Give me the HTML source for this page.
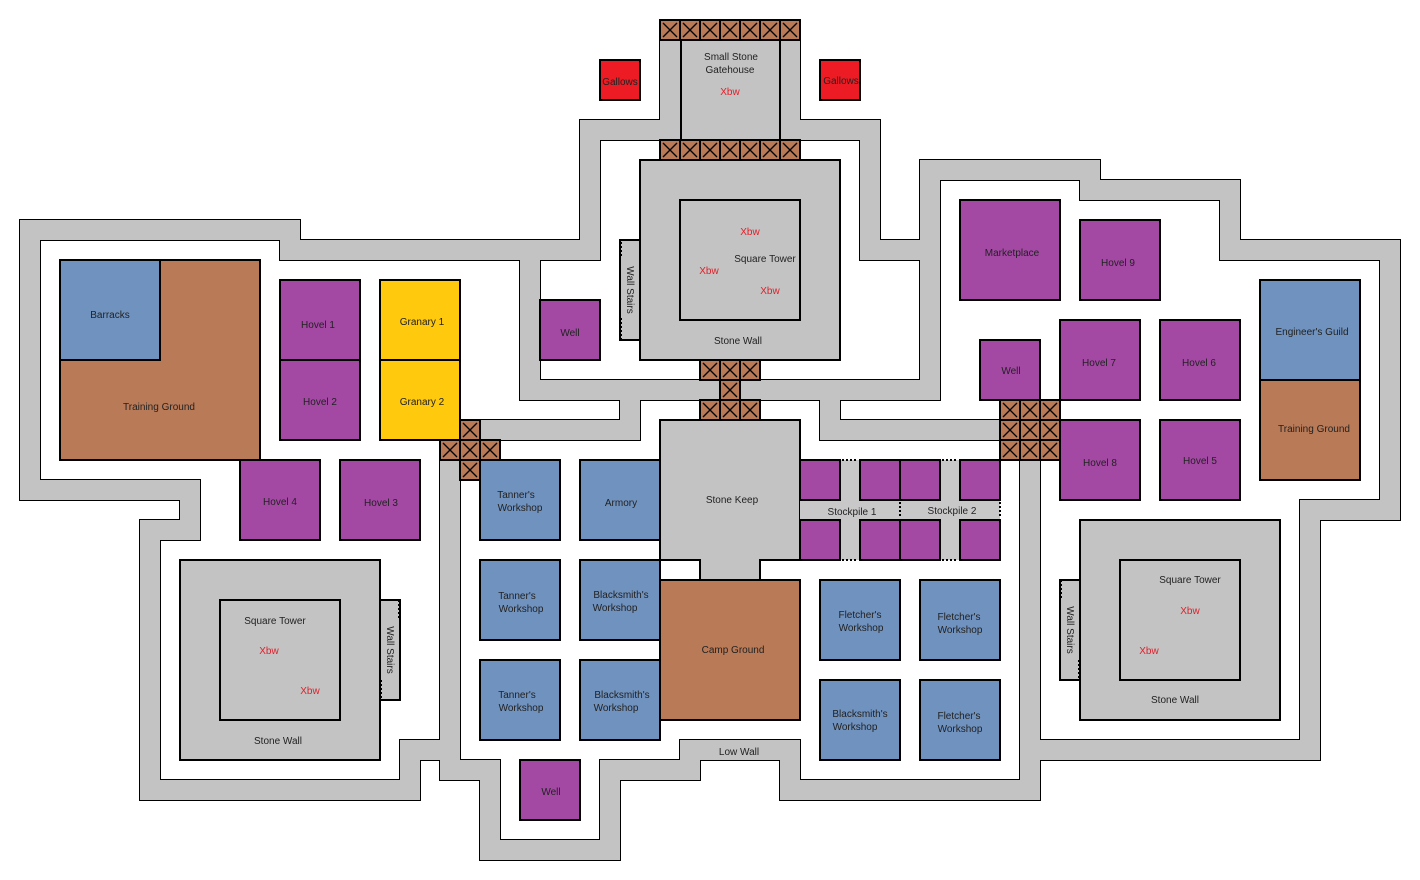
<!DOCTYPE html>
<html><head><meta charset="utf-8"><style>
html,body{margin:0;padding:0;background:#fff;}
svg{display:block;}
text{font-family:"Liberation Sans",sans-serif;font-size:10px;fill:#222;text-anchor:middle;}
.r{fill:#e0202a;}
</style></head><body>
<svg width="1420" height="880" viewBox="0 0 1420 880" xmlns="http://www.w3.org/2000/svg">
<rect width="1420" height="880" fill="#fff"/>
<g id="walls">
<g fill="#000">
<rect x="19" y="219" width="282" height="22"/>
<rect x="279" y="239" width="322" height="22"/>
<rect x="19" y="219" width="22" height="282"/>
<rect x="19" y="479" width="182" height="22"/>
<rect x="179" y="479" width="22" height="62"/>
<rect x="139" y="519" width="62" height="22"/>
<rect x="139" y="519" width="22" height="282"/>
<rect x="139" y="779" width="282" height="22"/>
<rect x="399" y="739" width="22" height="62"/>
<rect x="399" y="739" width="62" height="22"/>
<rect x="439" y="459" width="22" height="322"/>
<rect x="439" y="759" width="62" height="22"/>
<rect x="479" y="759" width="22" height="102"/>
<rect x="479" y="839" width="142" height="22"/>
<rect x="599" y="759" width="22" height="102"/>
<rect x="599" y="759" width="102" height="22"/>
<rect x="679" y="739" width="22" height="42"/>
<rect x="679" y="739" width="122" height="22"/>
<rect x="779" y="739" width="22" height="62"/>
<rect x="779" y="779" width="262" height="22"/>
<rect x="1019" y="439" width="22" height="362"/>
<rect x="1039" y="739" width="282" height="22"/>
<rect x="1299" y="499" width="22" height="262"/>
<rect x="1299" y="499" width="102" height="22"/>
<rect x="1379" y="239" width="22" height="282"/>
<rect x="1219" y="239" width="182" height="22"/>
<rect x="1219" y="179" width="22" height="82"/>
<rect x="1079" y="179" width="162" height="22"/>
<rect x="1079" y="159" width="22" height="42"/>
<rect x="919" y="159" width="182" height="22"/>
<rect x="919" y="159" width="22" height="242"/>
<rect x="859" y="239" width="82" height="22"/>
<rect x="859" y="119" width="22" height="142"/>
<rect x="799" y="119" width="82" height="22"/>
<rect x="579" y="119" width="82" height="22"/>
<rect x="579" y="119" width="22" height="142"/>
<rect x="519" y="259" width="22" height="142"/>
<rect x="519" y="379" width="422" height="22"/>
<rect x="619" y="399" width="22" height="42"/>
<rect x="479" y="419" width="162" height="22"/>
<rect x="819" y="399" width="22" height="42"/>
<rect x="839" y="419" width="162" height="22"/>
<rect x="659" y="39" width="142" height="102"/>
</g>
<g fill="#c3c3c3">
<rect x="20" y="220" width="280" height="20"/>
<rect x="280" y="240" width="320" height="20"/>
<rect x="20" y="220" width="20" height="280"/>
<rect x="20" y="480" width="180" height="20"/>
<rect x="180" y="480" width="20" height="60"/>
<rect x="140" y="520" width="60" height="20"/>
<rect x="140" y="520" width="20" height="280"/>
<rect x="140" y="780" width="280" height="20"/>
<rect x="400" y="740" width="20" height="60"/>
<rect x="400" y="740" width="60" height="20"/>
<rect x="440" y="460" width="20" height="320"/>
<rect x="440" y="760" width="60" height="20"/>
<rect x="480" y="760" width="20" height="100"/>
<rect x="480" y="840" width="140" height="20"/>
<rect x="600" y="760" width="20" height="100"/>
<rect x="600" y="760" width="100" height="20"/>
<rect x="680" y="740" width="20" height="40"/>
<rect x="680" y="740" width="120" height="20"/>
<rect x="780" y="740" width="20" height="60"/>
<rect x="780" y="780" width="260" height="20"/>
<rect x="1020" y="440" width="20" height="360"/>
<rect x="1040" y="740" width="280" height="20"/>
<rect x="1300" y="500" width="20" height="260"/>
<rect x="1300" y="500" width="100" height="20"/>
<rect x="1380" y="240" width="20" height="280"/>
<rect x="1220" y="240" width="180" height="20"/>
<rect x="1220" y="180" width="20" height="80"/>
<rect x="1080" y="180" width="160" height="20"/>
<rect x="1080" y="160" width="20" height="40"/>
<rect x="920" y="160" width="180" height="20"/>
<rect x="920" y="160" width="20" height="240"/>
<rect x="860" y="240" width="80" height="20"/>
<rect x="860" y="120" width="20" height="140"/>
<rect x="800" y="120" width="80" height="20"/>
<rect x="580" y="120" width="80" height="20"/>
<rect x="580" y="120" width="20" height="140"/>
<rect x="520" y="260" width="20" height="140"/>
<rect x="520" y="380" width="420" height="20"/>
<rect x="620" y="400" width="20" height="40"/>
<rect x="480" y="420" width="160" height="20"/>
<rect x="820" y="400" width="20" height="40"/>
<rect x="840" y="420" width="160" height="20"/>
<rect x="660" y="40" width="140" height="100"/>
</g>
<line x1="681" y1="40" x2="681" y2="140" stroke="#000" stroke-width="2"/>
<line x1="780" y1="40" x2="780" y2="140" stroke="#000" stroke-width="2"/>
</g>

<g stroke="#000" stroke-width="2">
<rect x="640" y="160" width="200" height="200" fill="#c3c3c3"/>
<rect x="680" y="200" width="120" height="120" fill="#c3c3c3"/>
<rect x="620" y="240" width="20" height="100" fill="#c3c3c3"/>
<rect x="180" y="560" width="200" height="200" fill="#c3c3c3"/>
<rect x="220" y="600" width="120" height="120" fill="#c3c3c3"/>
<rect x="380" y="600" width="20" height="100" fill="#c3c3c3"/>
<rect x="1080" y="520" width="200" height="200" fill="#c3c3c3"/>
<rect x="1120" y="560" width="120" height="120" fill="#c3c3c3"/>
<rect x="1060" y="580" width="20" height="100" fill="#c3c3c3"/>
<polygon points="660,420 800,420 800,560 760,560 760,580 700,580 700,560 660,560" fill="#c3c3c3"/>
<rect x="660" y="580" width="140" height="140" fill="#b97a57"/>
<rect x="600" y="60" width="40" height="40" fill="#ed1c24"/>
<rect x="820" y="60" width="40" height="40" fill="#ed1c24"/>
<rect x="60" y="260" width="200" height="200" fill="#b97a57"/>
<rect x="60" y="260" width="100" height="100" fill="#7092be"/>
<rect x="280" y="280" width="80" height="80" fill="#a349a4"/>
<rect x="280" y="360" width="80" height="80" fill="#a349a4"/>
<rect x="380" y="280" width="80" height="80" fill="#ffc90e"/>
<rect x="380" y="360" width="80" height="80" fill="#ffc90e"/>
<rect x="240" y="460" width="80" height="80" fill="#a349a4"/>
<rect x="340" y="460" width="80" height="80" fill="#a349a4"/>
<rect x="540" y="300" width="60" height="60" fill="#a349a4"/>
<rect x="480" y="460" width="80" height="80" fill="#7092be"/>
<rect x="580" y="460" width="80" height="80" fill="#7092be"/>
<rect x="480" y="560" width="80" height="80" fill="#7092be"/>
<rect x="580" y="560" width="80" height="80" fill="#7092be"/>
<rect x="480" y="660" width="80" height="80" fill="#7092be"/>
<rect x="580" y="660" width="80" height="80" fill="#7092be"/>
<rect x="820" y="580" width="80" height="80" fill="#7092be"/>
<rect x="920" y="580" width="80" height="80" fill="#7092be"/>
<rect x="820" y="680" width="80" height="80" fill="#7092be"/>
<rect x="920" y="680" width="80" height="80" fill="#7092be"/>
<rect x="520" y="760" width="60" height="60" fill="#a349a4"/>
<rect x="960" y="200" width="100" height="100" fill="#a349a4"/>
<rect x="1080" y="220" width="80" height="80" fill="#a349a4"/>
<rect x="980" y="340" width="60" height="60" fill="#a349a4"/>
<rect x="1060" y="320" width="80" height="80" fill="#a349a4"/>
<rect x="1160" y="320" width="80" height="80" fill="#a349a4"/>
<rect x="1060" y="420" width="80" height="80" fill="#a349a4"/>
<rect x="1160" y="420" width="80" height="80" fill="#a349a4"/>
<rect x="1260" y="280" width="100" height="100" fill="#7092be"/>
<rect x="1260" y="380" width="100" height="100" fill="#b97a57"/>
</g>
<g fill="#c8c8c8">
<rect x="800" y="500" width="200" height="20"/>
<rect x="840" y="460" width="20" height="100"/>
<rect x="940" y="460" width="20" height="100"/>
</g>
<g stroke="#000" stroke-width="2" fill="#a349a4">
<rect x="800" y="460" width="40" height="40"/><rect x="860" y="460" width="40" height="40"/><rect x="900" y="460" width="40" height="40"/><rect x="960" y="460" width="40" height="40"/>
<rect x="800" y="520" width="40" height="40"/><rect x="860" y="520" width="40" height="40"/><rect x="900" y="520" width="40" height="40"/><rect x="960" y="520" width="40" height="40"/>
</g>
<g stroke="#000" stroke-width="2" stroke-dasharray="2,2" fill="none">
<line x1="842" y1="460" x2="858" y2="460"/><line x1="942" y1="460" x2="958" y2="460"/>
<line x1="842" y1="560" x2="858" y2="560"/><line x1="942" y1="560" x2="958" y2="560"/>
<line x1="900" y1="502" x2="900" y2="518"/><line x1="1000" y1="502" x2="1000" y2="518"/>
<line x1="712" y1="580" x2="748" y2="580"/>
<line x1="712" y1="40" x2="748" y2="40"/><line x1="712" y1="140" x2="748" y2="140"/>
<line x1="621" y1="242" x2="621" y2="258"/><line x1="621" y1="318" x2="621" y2="340"/><line x1="621" y1="340" x2="640" y2="340"/>
<line x1="399" y1="600" x2="399" y2="620"/><line x1="380" y1="600" x2="399" y2="600"/><line x1="381" y1="680" x2="381" y2="698"/>
<line x1="1061" y1="580" x2="1061" y2="598"/><line x1="1061" y1="580" x2="1080" y2="580"/><line x1="1079" y1="660" x2="1079" y2="678"/>
</g>
<defs>
<g id="cx"><rect x="0" y="0" width="20" height="20" fill="#b97a57" stroke="#000" stroke-width="2"/><path d="M3 3L17 17M17 3L3 17" stroke="#000" stroke-width="1.3"/></g>
</defs>
<g>
<use href="#cx" x="660" y="20"/><use href="#cx" x="680" y="20"/><use href="#cx" x="700" y="20"/><use href="#cx" x="720" y="20"/><use href="#cx" x="740" y="20"/><use href="#cx" x="760" y="20"/><use href="#cx" x="780" y="20"/>
<use href="#cx" x="660" y="140"/><use href="#cx" x="680" y="140"/><use href="#cx" x="700" y="140"/><use href="#cx" x="720" y="140"/><use href="#cx" x="740" y="140"/><use href="#cx" x="760" y="140"/><use href="#cx" x="780" y="140"/>
<use href="#cx" x="700" y="360"/><use href="#cx" x="720" y="360"/><use href="#cx" x="740" y="360"/>
<use href="#cx" x="720" y="380"/>
<use href="#cx" x="700" y="400"/><use href="#cx" x="720" y="400"/><use href="#cx" x="740" y="400"/>
<use href="#cx" x="460" y="420"/>
<use href="#cx" x="440" y="440"/><use href="#cx" x="460" y="440"/><use href="#cx" x="480" y="440"/>
<use href="#cx" x="460" y="460"/>
<use href="#cx" x="1000" y="400"/><use href="#cx" x="1020" y="400"/><use href="#cx" x="1040" y="400"/>
<use href="#cx" x="1000" y="420"/><use href="#cx" x="1020" y="420"/><use href="#cx" x="1040" y="420"/>
<use href="#cx" x="1000" y="440"/><use href="#cx" x="1020" y="440"/><use href="#cx" x="1040" y="440"/>
</g>
<g>
<text x="731" y="60">Small Stone</text><text x="730" y="73">Gatehouse</text><text x="730" y="95" class="r">Xbw</text>
<text x="620" y="85">Gallows</text><text x="841" y="84">Gallows</text>
<text x="750" y="235" class="r">Xbw</text><text x="765" y="262">Square Tower</text><text x="709" y="274" class="r">Xbw</text><text x="770" y="294" class="r">Xbw</text><text x="738" y="344">Stone Wall</text>
<text x="0" y="0" transform="translate(627,290) rotate(90)">Wall Stairs</text>
<text x="570" y="336">Well</text>
<text x="110" y="318">Barracks</text><text x="159" y="410">Training Ground</text>
<text x="318" y="328">Hovel 1</text><text x="320" y="405">Hovel 2</text>
<text x="422" y="325">Granary 1</text><text x="422" y="405">Granary 2</text>
<text x="280" y="505">Hovel 4</text><text x="381" y="506">Hovel 3</text>
<text x="275" y="624">Square Tower</text><text x="269" y="654" class="r">Xbw</text><text x="310" y="694" class="r">Xbw</text><text x="278" y="744">Stone Wall</text>
<text x="0" y="0" transform="translate(387,650) rotate(90)">Wall Stairs</text>
<text x="516" y="498">Tanner's</text><text x="520" y="511">Workshop</text>
<text x="621" y="506">Armory</text>
<text x="517" y="599">Tanner's</text><text x="521" y="612">Workshop</text>
<text x="621" y="598">Blacksmith's</text><text x="615" y="611">Workshop</text>
<text x="517" y="698">Tanner's</text><text x="521" y="711">Workshop</text>
<text x="622" y="698">Blacksmith's</text><text x="616" y="711">Workshop</text>
<text x="732" y="503">Stone Keep</text>
<text x="733" y="653">Camp Ground</text>
<text x="852" y="515">Stockpile 1</text><text x="952" y="514">Stockpile 2</text>
<text x="860" y="618">Fletcher's</text><text x="861" y="631">Workshop</text>
<text x="959" y="620">Fletcher's</text><text x="960" y="633">Workshop</text>
<text x="860" y="717">Blacksmith's</text><text x="855" y="730">Workshop</text>
<text x="959" y="719">Fletcher's</text><text x="960" y="732">Workshop</text>
<text x="551" y="795">Well</text>
<text x="739" y="755">Low Wall</text>
<text x="1012" y="256">Marketplace</text><text x="1118" y="266">Hovel 9</text>
<text x="1011" y="374">Well</text><text x="1099" y="366">Hovel 7</text><text x="1199" y="366">Hovel 6</text>
<text x="1100" y="466">Hovel 8</text><text x="1200" y="464">Hovel 5</text>
<text x="1312" y="335">Engineer's Guild</text><text x="1314" y="432">Training Ground</text>
<text x="1190" y="583">Square Tower</text><text x="1190" y="614" class="r">Xbw</text><text x="1149" y="654" class="r">Xbw</text><text x="1175" y="703">Stone Wall</text>
<text x="0" y="0" transform="translate(1067,630) rotate(90)">Wall Stairs</text>
</g>
</svg>
</body></html>
